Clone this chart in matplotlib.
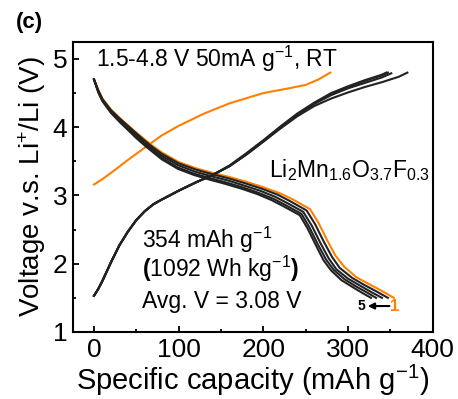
import matplotlib
matplotlib.use("Agg")
import matplotlib.pyplot as plt
from matplotlib.ticker import MultipleLocator

plt.rcParams['font.family'] = ['Liberation Sans', 'DejaVu Sans']
plt.rcParams['mathtext.fontset'] = 'custom'
plt.rcParams['mathtext.rm'] = 'Liberation Sans'
plt.rcParams['mathtext.it'] = 'Liberation Sans:italic'
plt.rcParams['mathtext.bf'] = 'Liberation Sans:bold'

ORANGE = '#FF8000'
DARK = '#222222'

# cycle 1 charge (orange)
chg1_cap = [0, 10, 20, 40, 60, 80, 100, 130, 160, 200, 230, 250, 265, 279]
chg1_v = [3.16, 3.24, 3.33, 3.52, 3.70, 3.88, 4.02, 4.20, 4.35, 4.50, 4.57, 4.62, 4.70, 4.80]

# cycles 2-5 charge (black)
chg2_cap = [0, 5, 10, 20, 30, 40, 50, 60, 70, 80, 100, 120, 140, 160, 180, 200, 220, 240, 260, 280, 300, 320, 340, 360, 370]
chg2_v = [1.53, 1.63, 1.75, 2.02, 2.27, 2.47, 2.64, 2.77, 2.87, 2.94, 3.07, 3.19, 3.30, 3.43, 3.60, 3.79, 3.98, 4.16, 4.31, 4.42, 4.51, 4.59, 4.66, 4.74, 4.80]
chg3_cap = [0, 5, 10, 20, 30, 40, 50, 60, 70, 80, 100, 120, 140, 160, 180, 200, 220, 240, 260, 280, 300, 320, 340, 351]
chg3_v = [1.53, 1.63, 1.75, 2.02, 2.27, 2.47, 2.64, 2.77, 2.87, 2.94, 3.07, 3.19, 3.30, 3.43, 3.60, 3.79, 3.99, 4.18, 4.34, 4.47, 4.57, 4.65, 4.73, 4.79]
chg4_cap = [0, 5, 10, 20, 30, 40, 50, 60, 70, 80, 100, 120, 140, 160, 180, 200, 220, 240, 260, 280, 300, 320, 340, 347]
chg4_v = [1.53, 1.63, 1.75, 2.02, 2.27, 2.47, 2.64, 2.77, 2.87, 2.94, 3.07, 3.19, 3.30, 3.43, 3.61, 3.80, 4.00, 4.19, 4.35, 4.49, 4.59, 4.68, 4.76, 4.80]
chg5_cap = [0, 5, 10, 20, 30, 40, 50, 60, 70, 80, 100, 120, 140, 160, 180, 200, 220, 240, 260, 280, 300, 320, 340, 345]
chg5_v = [1.53, 1.63, 1.75, 2.02, 2.27, 2.47, 2.64, 2.77, 2.87, 2.94, 3.07, 3.19, 3.30, 3.44, 3.62, 3.81, 4.01, 4.20, 4.36, 4.50, 4.60, 4.69, 4.77, 4.80]

# discharge, cycle 1 (orange) and cycles 2-5 (black)
dis1_cap = [0, 5, 10, 20, 30, 40, 50, 60, 70, 80, 100, 120, 140, 160, 180, 200, 220, 235, 255, 265, 275, 285, 295, 310, 325, 340, 354]
dis1_v = [4.70, 4.55, 4.42, 4.26, 4.14, 4.03, 3.92, 3.82, 3.72, 3.63, 3.49, 3.40, 3.33, 3.27, 3.20, 3.12, 3.03, 2.94, 2.80, 2.60, 2.35, 2.12, 1.96, 1.80, 1.70, 1.60, 1.50]
dis2_cap = [0, 5, 10, 20, 30, 40, 50, 60, 70, 80, 100, 120, 140, 159, 178, 198, 217, 231, 251, 261, 271, 281, 290, 305, 319, 334, 347]
dis2_v = [4.70, 4.54, 4.41, 4.25, 4.13, 4.02, 3.91, 3.80, 3.70, 3.61, 3.47, 3.38, 3.31, 3.25, 3.18, 3.10, 3.01, 2.92, 2.78, 2.58, 2.33, 2.10, 1.94, 1.79, 1.69, 1.59, 1.50]
dis3_cap = [0, 5, 10, 20, 30, 40, 50, 60, 70, 80, 100, 119, 139, 158, 176, 196, 214, 228, 247, 257, 267, 277, 286, 300, 314, 328, 340]
dis3_v = [4.70, 4.53, 4.40, 4.23, 4.11, 3.99, 3.88, 3.77, 3.67, 3.58, 3.44, 3.35, 3.28, 3.22, 3.15, 3.07, 2.98, 2.89, 2.76, 2.56, 2.31, 2.08, 1.92, 1.78, 1.68, 1.58, 1.50]
dis4_cap = [0, 5, 10, 20, 30, 40, 50, 60, 70, 80, 99, 118, 138, 156, 175, 194, 212, 226, 245, 254, 264, 274, 283, 296, 309, 322, 333]
dis4_v = [4.70, 4.52, 4.39, 4.22, 4.09, 3.97, 3.86, 3.75, 3.65, 3.55, 3.41, 3.32, 3.25, 3.19, 3.12, 3.04, 2.95, 2.86, 2.73, 2.54, 2.29, 2.06, 1.91, 1.77, 1.67, 1.58, 1.50]
dis5_cap = [0, 5, 10, 20, 30, 40, 50, 60, 70, 80, 99, 118, 137, 155, 174, 193, 210, 224, 243, 252, 262, 271, 280, 292, 305, 317, 327]
dis5_v = [4.70, 4.51, 4.38, 4.21, 4.08, 3.96, 3.84, 3.73, 3.63, 3.53, 3.39, 3.30, 3.23, 3.17, 3.10, 3.02, 2.93, 2.84, 2.71, 2.52, 2.27, 2.05, 1.90, 1.76, 1.66, 1.57, 1.50]

fig = plt.figure(figsize=(4.58, 3.99), dpi=100)
ax = fig.add_axes([0.159, 0.168, 0.786, 0.727])

# orange first so the black cycles sit on top of it
ax.plot(dis1_cap, dis1_v, color=ORANGE, lw=1.5, zorder=2)
ax.plot(chg1_cap, chg1_v, color=ORANGE, lw=1.5, zorder=2)
for c, v in [(dis2_cap, dis2_v), (dis3_cap, dis3_v), (dis4_cap, dis4_v), (dis5_cap, dis5_v),
             (chg2_cap, chg2_v), (chg3_cap, chg3_v), (chg4_cap, chg4_v), (chg5_cap, chg5_v)]:
    ax.plot(c, v, color=DARK, lw=1.5, zorder=3)

ax.set_xlim(-25, 400)
ax.set_ylim(1, 5.25)
ax.xaxis.set_major_locator(MultipleLocator(100))
ax.xaxis.set_minor_locator(MultipleLocator(50))
ax.yaxis.set_major_locator(MultipleLocator(1))
ax.yaxis.set_minor_locator(MultipleLocator(0.5))
ax.tick_params(which='both', direction='in', labelsize=19, width=1.3, top=False, right=False)
ax.tick_params(which='major', length=4.5, pad=4)
ax.tick_params(which='minor', length=2.5)
for s in ax.spines.values():
    s.set_linewidth(1.5)

ax.set_xlabel('Specific capacity (mAh g$^{-1}$)', fontsize=21, labelpad=1)
ax.set_ylabel('Voltage v.s. Li$^{+}$/Li (V)', fontsize=20, labelpad=3)

ax.text(2, 5.0, '1.5-4.8 V 50mA g$^{-1}$, RT', fontsize=16.5, ha='left', va='center')
ax.text(207, 3.265, 'Li$_2$Mn$_{1.6}$O$_{3.7}$F$_{0.3}$', fontsize=16.5, ha='left', va='baseline')
ax.text(57, 2.235, '354 mAh g$^{-1}$', fontsize=16.5, ha='left', va='baseline')
ax.text(57, 1.80, r'$\mathbf{(}$1092 Wh kg$^{-1}$$\mathbf{)}$', fontsize=16.5, ha='left', va='baseline')
ax.text(57, 1.35, 'Avg. V = 3.08 V', fontsize=16.5, ha='left', va='baseline')

ax.annotate('', xy=(320, 1.38), xytext=(352, 1.38),
            arrowprops=dict(arrowstyle='-|>', color='black', lw=1.5, mutation_scale=9))
ax.text(316, 1.38, '5', fontsize=10, fontweight='bold', ha='center', va='center')
ax.text(355, 1.38, '1', fontsize=12, fontweight='bold', color=ORANGE, ha='center', va='center')

fig.text(0.065, 0.943, '(c)', fontsize=16, fontweight='bold', ha='center', va='center')

fig.savefig('out.png', dpi=100)
